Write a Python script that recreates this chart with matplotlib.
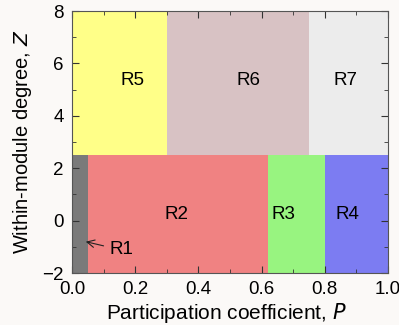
import matplotlib
matplotlib.use('Agg')
import matplotlib.pyplot as plt
from matplotlib.patches import Rectangle
from matplotlib.ticker import MultipleLocator

plt.rcParams['font.family'] = ['Liberation Sans', 'DejaVu Sans']

# regions: name, P range, Z range, colour
names = ['R1', 'R2', 'R3', 'R4', 'R5', 'R6', 'R7']
p_lo = [0.0, 0.05, 0.62, 0.80, 0.0, 0.30, 0.75]
p_hi = [0.05, 0.62, 0.80, 1.0, 0.30, 0.75, 1.0]
z_lo = [-2, -2, -2, -2, 2.5, 2.5, 2.5]
z_hi = [2.5, 2.5, 2.5, 2.5, 8, 8, 8]
colors = ['#7a7a7a', '#f08282', '#98f480', '#7c7cf2', '#ffff88', '#d8c2c4', '#ececec']
label_x = [None, 0.33, 0.67, 0.873, 0.19, 0.557, 0.865]
label_y = [None, 0.25, 0.25, 0.25, 5.35, 5.35, 5.35]

fig = plt.figure(figsize=(3.99, 3.25), dpi=100, facecolor='#fbf9f7')
ax = fig.add_axes([72/399, 1 - 273/325, 316/399, 262/325])

for i in range(len(names)):
    ax.add_patch(Rectangle((p_lo[i], z_lo[i]), p_hi[i] - p_lo[i], z_hi[i] - z_lo[i],
                           facecolor=colors[i], edgecolor='none'))
    if label_x[i] is not None:
        ax.text(label_x[i], label_y[i], names[i], ha='center', va='center', fontsize=13.5)

ax.annotate('R1', xy=(0.035, -0.78), xytext=(0.155, -1.12), ha='center', va='center',
            fontsize=13.5, arrowprops=dict(arrowstyle='->', color='#222222', lw=0.8))

ax.set_xlim(0, 1)
ax.set_ylim(-2, 8)
ax.xaxis.set_major_locator(MultipleLocator(0.2))
ax.xaxis.set_minor_locator(MultipleLocator(0.1))
ax.yaxis.set_major_locator(MultipleLocator(2))
ax.yaxis.set_minor_locator(MultipleLocator(1))
ax.set_xticklabels(['%.1f' % v for v in ax.get_xticks()])
ax.tick_params(which='both', direction='in', top=True, right=True, labelsize=13.5,
               color='#333333', pad=6)
ax.tick_params(which='major', length=5)
ax.tick_params(which='minor', length=3)
for s in ax.spines.values():
    s.set_color('#555555')
    s.set_linewidth(0.8)

ax.set_xlabel('Participation coefficient, $\\it{P}$', fontsize=15, va='center')
ax.set_ylabel('Within-module degree, $\\it{Z}$', fontsize=14.5, va='center')
ax.xaxis.set_label_coords(0.49, -0.153)
ax.yaxis.set_label_coords(-0.157, 0.5)

fig.savefig('out.png', dpi=100, facecolor=fig.get_facecolor())
